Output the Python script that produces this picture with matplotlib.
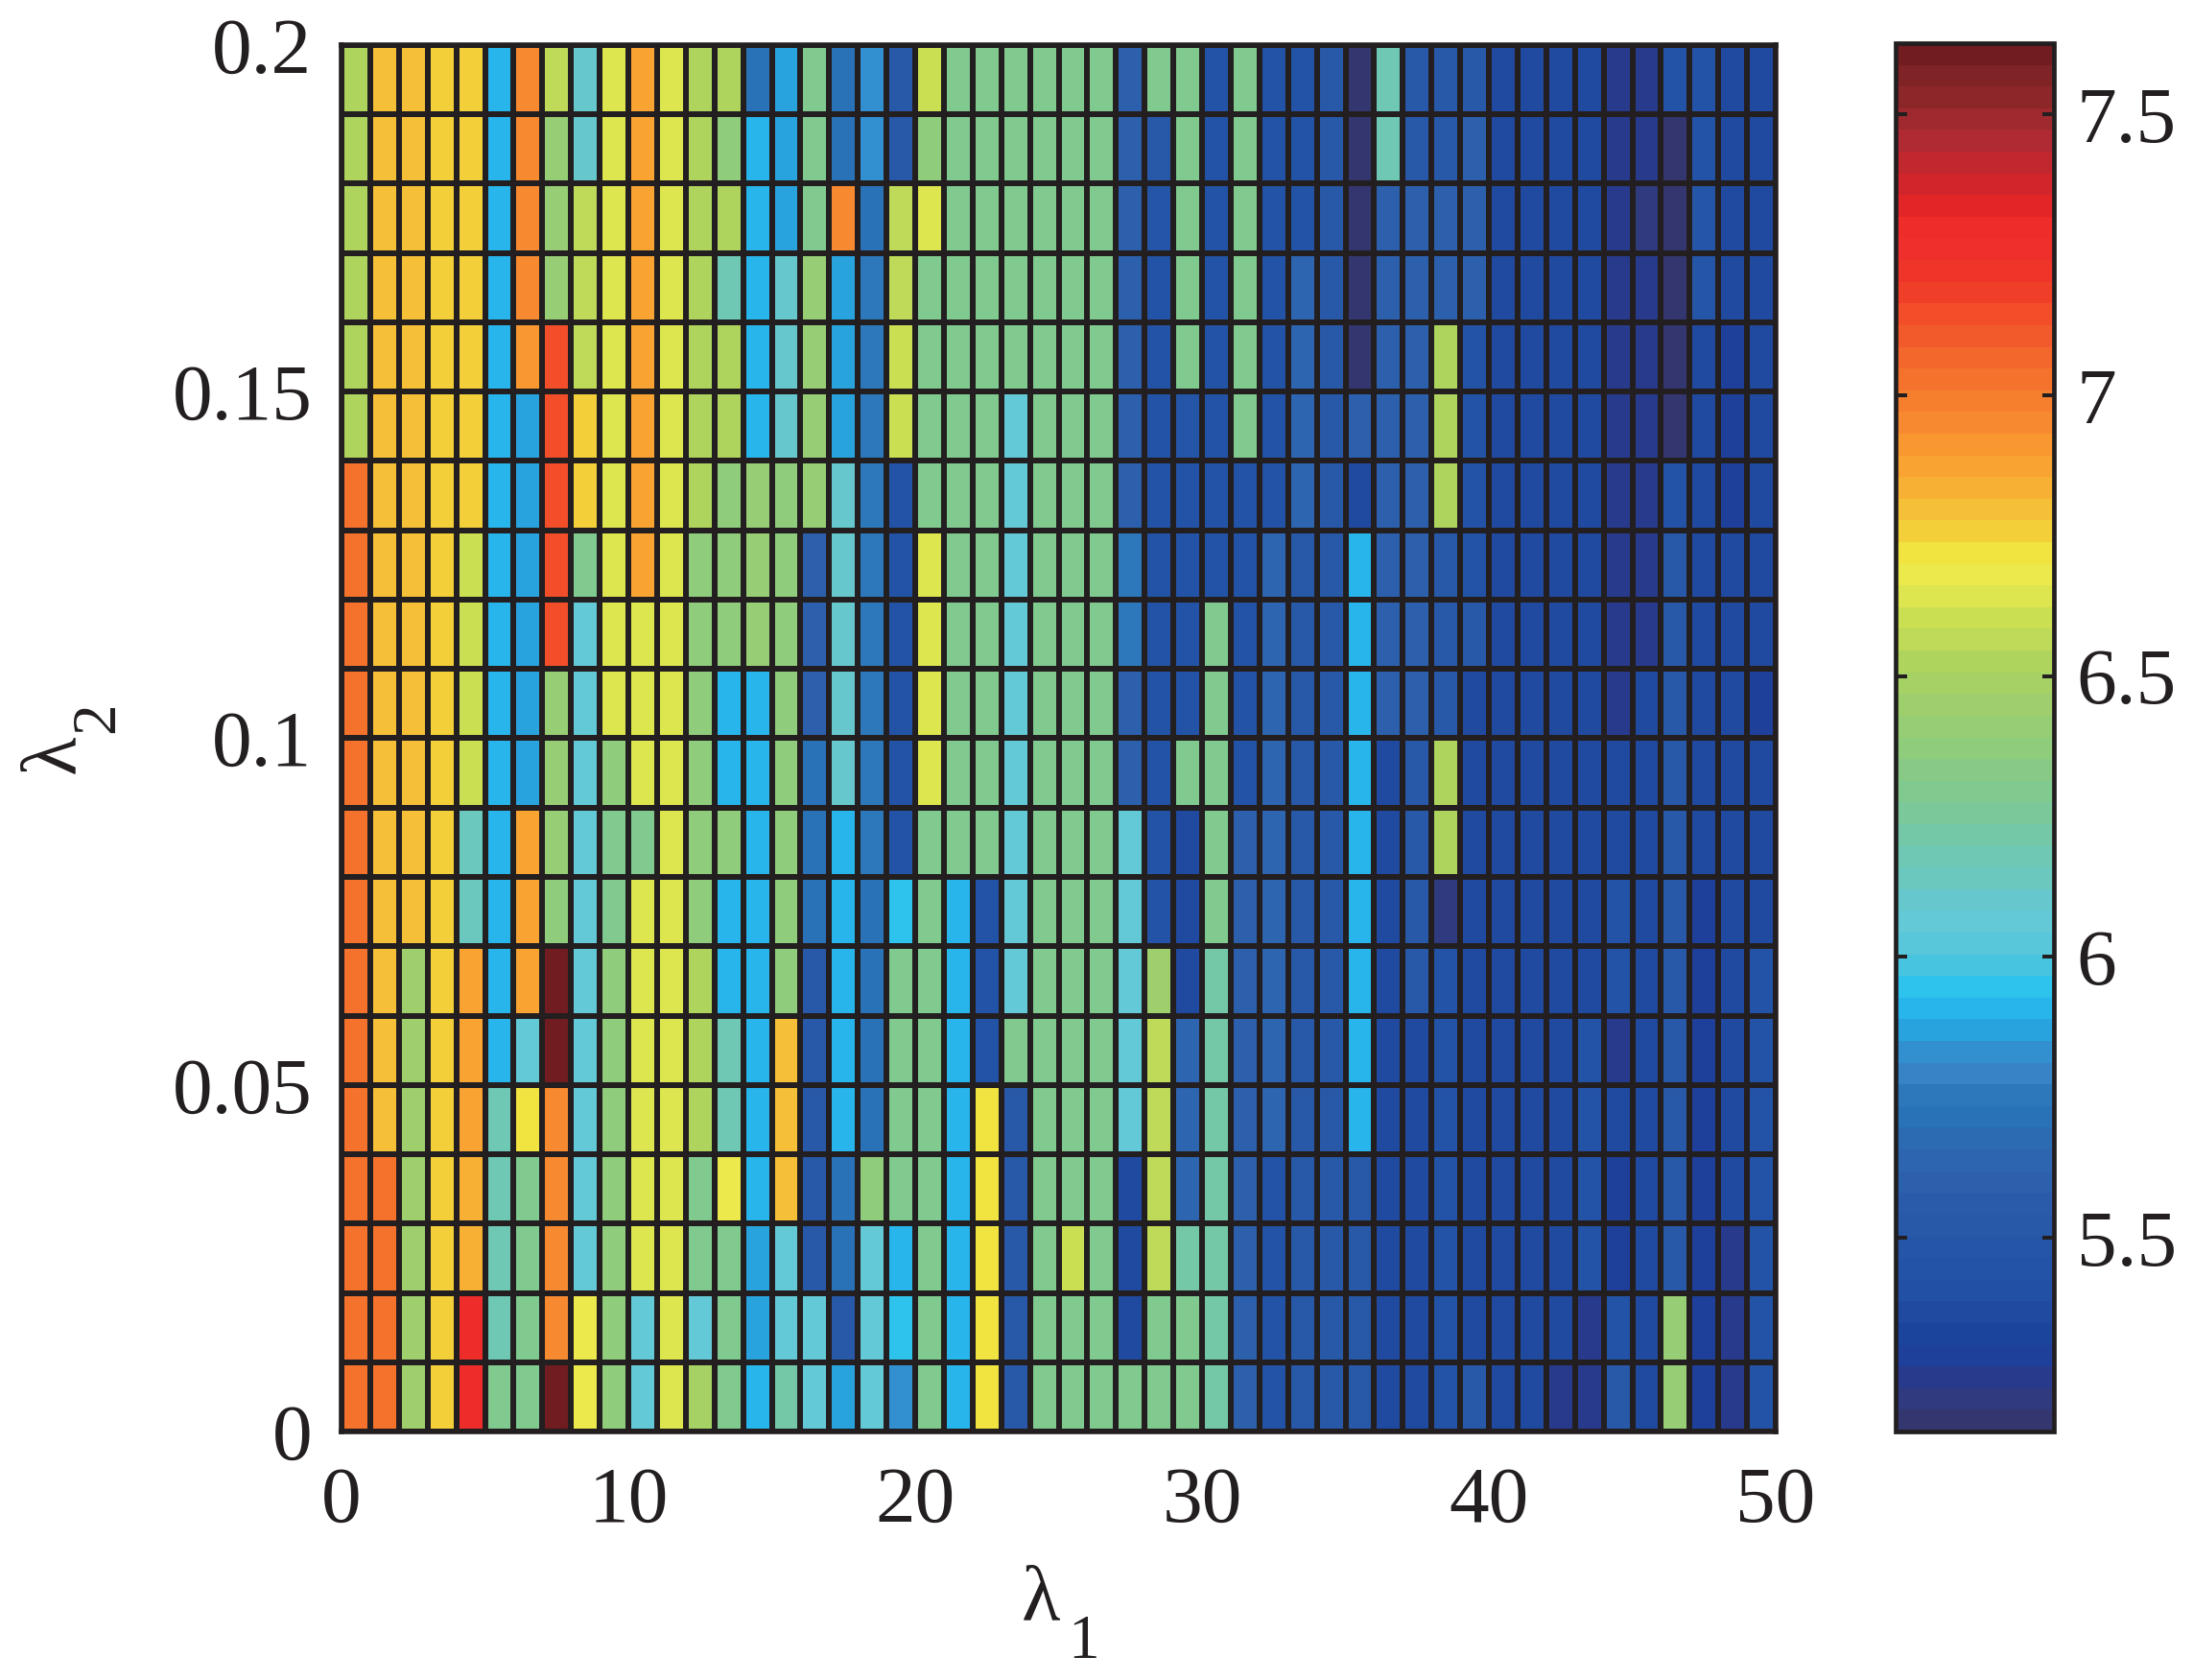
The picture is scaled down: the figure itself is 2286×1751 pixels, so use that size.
import matplotlib
matplotlib.use("Agg")
import matplotlib.pyplot as plt
import numpy as np
from matplotlib.colors import ListedColormap

plt.rcParams["font.family"] = ["Liberation Serif", "DejaVu Serif"]

INK = "#231f20"
W, H = 2286, 1751
FS = 60
SUB_FS = 47

# values, top row (lambda2 0.19-0.20) first
z_top_down = [
    [6.52,6.79,6.79,6.75,6.75,5.91,6.95,6.56,6.10,6.64,6.87,6.64,6.52,6.52,5.72,5.87,6.28,5.72,5.83,5.51,6.60,6.28,6.28,6.28,6.28,
     6.28,6.28,5.60,6.28,6.28,5.43,6.28,5.43,5.43,5.51,5.17,6.18,5.51,5.51,5.51,5.35,5.35,5.35,5.35,5.25,5.25,5.43,5.43,5.35,5.35],
    [6.52,6.79,6.79,6.75,6.75,5.91,6.95,6.40,6.10,6.64,6.87,6.64,6.52,6.36,5.91,5.87,6.28,5.72,5.83,5.51,6.36,6.28,6.28,6.28,6.28,
     6.28,6.28,5.60,5.51,6.28,5.43,6.28,5.43,5.43,5.51,5.17,6.18,5.51,5.51,5.60,5.35,5.35,5.35,5.35,5.25,5.25,5.17,5.43,5.35,5.35],
    [6.52,6.79,6.79,6.75,6.75,5.91,6.95,6.40,6.56,6.64,6.87,6.64,6.52,6.52,5.91,5.87,6.28,6.95,5.72,6.56,6.64,6.28,6.28,6.28,6.28,
     6.28,6.28,5.60,5.47,6.28,5.43,6.28,5.43,5.43,5.51,5.17,5.60,5.60,5.60,5.60,5.35,5.35,5.35,5.35,5.25,5.23,5.17,5.48,5.35,5.35],
    [6.52,6.79,6.79,6.75,6.75,5.91,6.95,6.40,6.56,6.64,6.87,6.64,6.52,6.18,5.91,6.10,6.40,5.87,5.76,6.56,6.28,6.28,6.28,6.28,6.28,
     6.28,6.28,5.60,5.45,6.28,5.43,6.28,5.43,5.62,5.51,5.17,5.60,5.60,5.60,5.60,5.35,5.35,5.35,5.35,5.25,5.25,5.17,5.48,5.35,5.35],
    [6.52,6.79,6.79,6.75,6.75,5.91,6.91,7.14,6.56,6.64,6.87,6.64,6.52,6.52,5.91,6.10,6.40,5.87,5.76,6.60,6.28,6.28,6.28,6.28,6.28,
     6.28,6.28,5.60,5.45,6.28,5.43,6.28,5.43,5.62,5.51,5.17,5.60,5.60,6.52,5.43,5.35,5.35,5.35,5.35,5.25,5.25,5.17,5.38,5.29,5.35],
    [6.52,6.79,6.79,6.75,6.75,5.91,5.87,7.14,6.75,6.64,6.87,6.64,6.52,6.52,5.91,6.10,6.40,5.87,5.76,6.60,6.28,6.28,6.28,6.05,6.28,
     6.28,6.28,5.60,5.45,5.50,5.43,6.28,5.43,5.62,5.51,5.60,5.60,5.60,6.52,5.43,5.35,5.35,5.35,5.35,5.25,5.25,5.17,5.38,5.29,5.35],
    [7.03,6.79,6.79,6.75,6.75,5.91,5.87,7.14,6.75,6.64,6.87,6.64,6.52,6.36,6.42,6.36,6.40,6.10,5.76,5.43,6.28,6.28,6.28,6.05,6.28,
     6.28,6.28,5.60,5.45,5.43,5.43,5.43,5.43,5.62,5.51,5.35,5.60,5.60,6.52,5.43,5.35,5.35,5.35,5.35,5.25,5.25,5.45,5.38,5.29,5.35],
    [7.03,6.79,6.79,6.75,6.60,5.91,5.87,7.14,6.28,6.64,6.87,6.64,6.36,6.36,6.42,6.36,5.58,6.10,5.76,5.43,6.64,6.28,6.28,6.05,6.28,
     6.28,6.28,5.76,5.45,5.43,5.43,5.43,5.62,5.51,5.51,5.91,5.60,5.60,5.51,5.43,5.35,5.35,5.35,5.35,5.25,5.25,5.51,5.38,5.35,5.35],
    [7.03,6.79,6.79,6.75,6.60,5.91,5.87,7.14,6.05,6.64,6.64,6.64,6.36,6.36,6.42,6.36,5.58,6.10,5.76,5.43,6.64,6.28,6.28,6.05,6.28,
     6.28,6.28,5.76,5.45,5.43,6.28,5.43,5.62,5.51,5.51,5.91,5.60,5.60,5.51,5.51,5.35,5.35,5.35,5.35,5.25,5.25,5.51,5.38,5.35,5.35],
    [7.03,6.79,6.79,6.75,6.60,5.91,5.87,6.42,6.05,6.64,6.64,6.64,6.36,5.91,5.91,6.36,5.58,6.10,5.76,5.43,6.64,6.28,6.28,6.05,6.28,
     6.28,6.28,5.60,5.45,5.43,6.28,5.43,5.62,5.51,5.51,5.91,5.60,5.60,5.51,5.35,5.35,5.35,5.35,5.35,5.25,5.35,5.51,5.38,5.35,5.29],
    [7.03,6.79,6.79,6.75,6.60,5.91,5.87,6.42,6.05,6.36,6.64,6.64,6.36,5.91,5.91,6.36,5.72,6.10,5.76,5.43,6.64,6.28,6.28,6.05,6.28,
     6.28,6.28,5.60,5.45,6.28,6.28,5.43,5.62,5.51,5.51,5.91,5.35,5.51,6.52,5.35,5.35,5.35,5.35,5.35,5.35,5.35,5.51,5.38,5.35,5.35],
    [7.03,6.79,6.79,6.75,6.14,5.91,6.87,6.42,6.05,6.28,6.28,6.64,6.36,6.36,5.91,6.36,5.72,5.91,5.74,5.43,6.28,6.28,6.28,6.05,6.28,
     6.28,6.28,6.05,5.45,5.38,6.28,5.60,5.62,5.51,5.51,5.91,5.35,5.51,6.52,5.35,5.35,5.35,5.35,5.35,5.35,5.35,5.51,5.38,5.35,5.35],
    [7.03,6.79,6.79,6.75,6.14,5.91,6.87,6.36,6.05,6.28,6.64,6.64,6.36,5.91,5.91,6.36,5.72,5.91,5.72,5.95,6.28,5.91,5.43,6.05,6.28,
     6.28,6.28,6.05,5.45,5.38,6.28,5.60,5.62,5.51,5.51,5.91,5.35,5.51,5.20,5.35,5.35,5.35,5.35,5.35,5.43,5.35,5.51,5.29,5.35,5.35],
    [7.03,6.79,6.44,6.75,6.87,5.91,6.87,7.61,6.05,6.36,6.64,6.64,6.52,5.91,5.91,6.36,5.51,5.91,5.72,6.28,6.28,5.91,5.43,6.05,6.28,
     6.28,6.28,6.05,6.46,5.38,6.20,5.60,5.62,5.51,5.51,5.91,5.35,5.51,5.45,5.35,5.35,5.35,5.35,5.35,5.43,5.35,5.51,5.29,5.35,5.45],
    [7.03,6.79,6.44,6.75,6.87,5.91,6.05,7.61,6.05,6.36,6.64,6.64,6.52,6.18,5.91,6.79,5.51,5.91,5.72,6.28,6.28,5.91,5.43,6.28,6.28,
     6.28,6.28,6.05,6.56,5.62,6.20,5.60,5.62,5.51,5.51,5.91,5.35,5.35,5.45,5.35,5.35,5.35,5.35,5.43,5.25,5.35,5.51,5.29,5.35,5.45],
    [7.03,6.79,6.44,6.75,6.87,6.18,6.72,6.95,6.05,6.36,6.64,6.64,6.52,6.18,5.91,6.79,5.51,5.91,5.72,6.28,6.28,5.91,6.72,5.51,6.28,
     6.28,6.28,6.05,6.56,5.62,6.20,5.60,5.62,5.51,5.51,5.91,5.35,5.35,5.45,5.35,5.35,5.35,5.35,5.43,5.35,5.35,5.51,5.29,5.35,5.45],
    [7.03,7.03,6.44,6.75,6.83,6.18,6.28,6.95,6.05,6.36,6.64,6.64,6.28,6.68,5.91,6.79,5.51,5.72,6.38,6.28,6.28,5.91,6.72,5.51,6.28,
     6.28,6.28,5.35,6.56,5.62,6.20,5.60,5.43,5.51,5.51,5.51,5.35,5.35,5.45,5.35,5.35,5.35,5.35,5.43,5.29,5.35,5.51,5.29,5.35,5.45],
    [7.03,7.03,6.44,6.75,6.83,6.18,6.28,6.95,6.05,6.36,6.64,6.64,6.28,6.28,5.87,6.05,5.51,5.72,6.05,5.91,6.28,5.91,6.72,5.51,6.28,
     6.60,6.28,5.35,6.56,6.20,6.20,5.60,5.43,5.51,5.51,5.51,5.35,5.35,5.45,5.35,5.35,5.35,5.35,5.43,5.29,5.35,5.51,5.29,5.27,5.45],
    [7.03,7.03,6.44,6.75,7.28,6.18,6.28,6.95,6.68,6.36,6.05,6.64,6.08,6.28,5.87,6.05,6.07,5.51,6.05,5.95,6.28,5.91,6.72,5.51,6.28,
     6.28,6.28,5.35,6.28,6.28,6.20,5.60,5.43,5.51,5.51,5.51,5.35,5.35,5.45,5.35,5.35,5.35,5.35,5.24,5.43,5.35,6.42,5.29,5.27,5.45],
    [7.03,7.03,6.44,6.75,7.28,6.28,6.28,7.61,6.68,6.36,6.05,6.64,6.48,6.28,5.91,6.20,6.07,5.87,6.05,5.83,6.28,5.91,6.72,5.51,6.28,
     6.28,6.28,6.28,6.28,6.28,6.20,5.60,5.43,5.51,5.51,5.51,5.35,5.35,5.45,5.51,5.35,5.35,5.25,5.25,5.51,5.35,6.42,5.29,5.27,5.45],
]

# the 64 bands of the colour bar, bottom to top
band_colors = [
    "#33366f", "#2f3a7f", "#283a8c", "#1e409a", "#1b449c", "#2049a0", "#2150a4", "#2353a6",
    "#2555a7", "#2858a8", "#2a5bab", "#2c60ad", "#2d65b0", "#2c6ab2", "#2a72b8", "#2c78bb",
    "#3783c5", "#3390d0", "#29a3de", "#27b5eb", "#2dc3ec", "#47c5e0", "#58c7da", "#64c9d7",
    "#66c8cc", "#6ac8bf", "#6ec8b4", "#74c8a8", "#7bc99a", "#80ca90", "#88ca85", "#8fcc7c",
    "#97cd74", "#9ecf6c", "#a6d164", "#afd45d", "#bfda58", "#cbdf52", "#dde54f", "#ebe94c",
    "#f1e440", "#f3d03a", "#f5c038", "#f7b034", "#f9a332", "#f99731", "#f78a30", "#f67f2e",
    "#f5722d", "#f4672c", "#f25a2b", "#f14e29", "#f03f29", "#ef352a", "#ef2f2b", "#ee2c2a",
    "#e22526", "#d0262b", "#c1272f", "#af2a32", "#9e292e", "#8c2629", "#7f2326", "#711c20",
]
vmin, vmax = 5.155, 7.627

x_ticks = [0, 10, 20, 30, 40, 50]
x_tick_labels = ["0", "10", "20", "30", "40", "50"]
y_ticks = [0, 0.05, 0.1, 0.15, 0.2]
y_tick_labels = ["0", "0.05", "0.1", "0.15", "0.2"]
cbar_ticks = [5.5, 6, 6.5, 7, 7.5]
cbar_tick_labels = ["5.5", "6", "6.5", "7", "7.5"]


def px_rect(left, top, right, bottom):
    return [left / W, 1 - bottom / H, (right - left) / W, (bottom - top) / H]


def label_part(x, y, s, size, rotation=0):
    # x, y in picture pixels: left end of the text on its baseline
    fig.text(x / W, 1 - y / H, s, fontsize=size, color=INK, ha="left", va="baseline",
             rotation=rotation, rotation_mode="anchor")


z = np.array(z_top_down)[::-1]
x_edges = np.arange(z.shape[1] + 1)
y_edges = np.arange(z.shape[0] + 1) * 0.01

fig = plt.figure(figsize=(W / 100, H / 100), dpi=100)
ax = fig.add_axes(px_rect(356, 47, 1851, 1492))
mesh = ax.pcolormesh(x_edges, y_edges, z, cmap=ListedColormap(band_colors), vmin=vmin, vmax=vmax,
                     edgecolors=INK, linewidth=4.0)
ax.set_xlim(0, 50)
ax.set_ylim(0, 0.2)
ax.set_xticks(x_ticks)
ax.set_xticklabels(x_tick_labels)
ax.set_yticks(y_ticks)
ax.set_yticklabels(y_tick_labels)
ax.tick_params(axis="x", direction="in", length=8, width=2.9, color=INK, labelcolor=INK, labelsize=FS, pad=26)
ax.tick_params(axis="y", direction="in", length=8, width=2.9, color=INK, labelcolor=INK, labelsize=FS, pad=22)
for s in ax.spines.values():
    s.set_linewidth(4.0)
    s.set_color(INK)

label_part(1065, 1688, "λ", FS)
label_part(1113, 1728, "1", SUB_FS)
label_part(77, 806, "λ", FS, rotation=90)
label_part(118, 764, "2", SUB_FS, rotation=90)

cax = fig.add_axes(px_rect(1976, 45, 2141, 1492))
cbar = fig.colorbar(mesh, cax=cax)
cbar.set_ticks(cbar_ticks)
cbar.set_ticklabels(cbar_tick_labels)
cbar.minorticks_off()
cax.tick_params(axis="y", direction="in", left=True, right=True, length=8.3, width=2.9, color=INK,
                labelcolor=INK, labelsize=FS, pad=17)
cbar.outline.set_linewidth(3.4)
cbar.outline.set_edgecolor(INK)

fig.savefig("out.png", dpi=100)
